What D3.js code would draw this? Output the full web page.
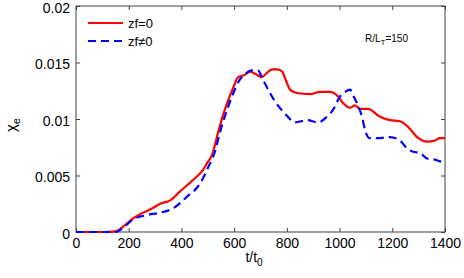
<!DOCTYPE html>
<html>
<head>
<meta charset="utf-8">
<script src="https://cdn.jsdelivr.net/npm/d3@7"></script>
<style>
  body { margin: 0; background: #fff; }
  text { font-family: "Liberation Sans", Arial, sans-serif; fill: #000; }
</style>
</head>
<body>
<div id="chart"></div>
<script>
var w = 464, h = 278;
var margin = {left: 76, right: 19, top: 6, bottom: 46};

// zf = 0 (red, solid)
var tZf0 = [0, 100, 150, 180, 216, 254, 290, 319, 357, 395, 444, 482, 500, 516, 539, 560, 578, 597, 615, 640, 660, 680, 705, 725, 745, 765, 782, 795, 812, 838, 888, 926, 964, 994, 1014, 1040, 1058, 1078, 1108, 1153, 1191, 1229, 1260, 1294, 1332, 1362, 1380, 1400];
var vZf0 = [0, 0, 0.00005, 0.0005, 0.0012, 0.0017, 0.0021, 0.0025, 0.0028, 0.0036, 0.0046, 0.0055, 0.0062, 0.0068, 0.0088, 0.0105, 0.0117, 0.0128, 0.0137, 0.0139, 0.0142, 0.0140, 0.0137, 0.0141, 0.0144, 0.0144, 0.0142, 0.0135, 0.0126, 0.0123, 0.0122, 0.0124, 0.0124, 0.0120, 0.0114, 0.0110, 0.0112, 0.0109, 0.0109, 0.0102, 0.0099, 0.0098, 0.0093, 0.0084, 0.0080, 0.0081, 0.0083, 0.0083];

// zf != 0 (blue, dashed)
var tZf1 = [0, 100, 150, 180, 216, 269, 319, 369, 420, 471, 501, 527, 546, 573, 597, 622, 648, 667, 690, 709, 736, 766, 800, 831, 876, 918, 952, 975, 1002, 1021, 1040, 1051, 1066, 1085, 1097, 1115, 1146, 1191, 1229, 1256, 1279, 1305, 1332, 1362, 1393, 1400];
var vZf1 = [0, 0, 0, 0.0004, 0.0011, 0.0015, 0.0017, 0.0021, 0.0031, 0.0043, 0.0057, 0.0071, 0.0088, 0.0108, 0.0123, 0.0135, 0.0141, 0.0143, 0.0143, 0.0135, 0.0123, 0.0112, 0.0103, 0.0097, 0.0099, 0.0097, 0.0102, 0.0108, 0.0120, 0.0124, 0.0126, 0.0121, 0.0114, 0.0102, 0.0090, 0.0083, 0.0083, 0.0084, 0.0081, 0.0074, 0.0071, 0.0070, 0.0065, 0.0064, 0.0062, 0.0063];

var xTicks = [0, 200, 400, 600, 800, 1000, 1200, 1400];
var yTicks = [0, 0.005, 0.01, 0.015, 0.02];
var yTickLabels = ["0", "0.005", "0.01", "0.015", "0.02"];

var svg = d3.select('#chart').append('svg')
    .attr('width', w)
    .attr('height', h);

var x = d3.scaleLinear().domain([0, 1400]).range([margin.left, w - margin.right]);
var y = d3.scaleLinear().domain([0, 0.02]).range([h - margin.bottom, margin.top]);

var axisColor = '#404040';

// box
svg.append('rect')
    .attr('x', x(0)).attr('y', y(0.02))
    .attr('width', x(1400) - x(0)).attr('height', y(0) - y(0.02))
    .attr('fill', 'none').attr('stroke', axisColor).attr('stroke-width', 1);

// axes, ticks inward
svg.append('g').attr('transform', 'translate(0,' + y(0) + ')')
    .call(d3.axisBottom(x).tickValues(xTicks).tickSize(-4).tickPadding(6).tickFormat(d3.format('d')));
svg.append('g').attr('transform', 'translate(0,' + y(0.02) + ')')
    .call(d3.axisTop(x).tickValues(xTicks).tickSize(-4).tickFormat(''));
var left = svg.append('g').attr('transform', 'translate(' + x(0) + ',0)')
    .call(d3.axisLeft(y).tickValues(yTicks).tickSize(-4).tickPadding(6)
        .tickFormat(function(d, i) { return yTickLabels[i]; }));
svg.append('g').attr('transform', 'translate(' + x(1400) + ',0)')
    .call(d3.axisRight(y).tickValues(yTicks).tickSize(-4).tickFormat(''));

svg.selectAll('.domain').remove();
svg.selectAll('.tick line').attr('stroke', axisColor);
svg.selectAll('.tick text')
    .style('font-family', '"Liberation Sans", Arial, sans-serif')
    .style('font-size', '14px')
    .attr('fill', '#000');
left.selectAll('.tick text').attr('dy', '0.45em'); // nudge so 0.02 isn't clipped

// curves
var line = d3.line()
    .x(function(d) { return x(d[0]); })
    .y(function(d) { return y(d[1]); })
    .curve(d3.curveMonotoneX);

svg.append('path')
    .datum(d3.zip(tZf0, vZf0))
    .attr('d', line)
    .attr('fill', 'none')
    .attr('stroke', '#ff0000')
    .attr('stroke-width', 2.2);

svg.append('path')
    .datum(d3.zip(tZf1, vZf1))
    .attr('d', line)
    .attr('fill', 'none')
    .attr('stroke', '#0000ff')
    .attr('stroke-width', 2.2)
    .attr('stroke-dasharray', '8,5');

// legend
var lg = svg.append('g');
lg.append('line').attr('x1', 88).attr('x2', 123).attr('y1', 23).attr('y2', 23)
    .attr('stroke', '#ff0000').attr('stroke-width', 2.2);
lg.append('text').attr('x', 128).attr('y', 28).style('font-size', '13px').text('zf=0');
lg.append('line').attr('x1', 88).attr('x2', 123).attr('y1', 41).attr('y2', 41)
    .attr('stroke', '#0000ff').attr('stroke-width', 2.2).attr('stroke-dasharray', '8,5');
lg.append('text').attr('x', 128).attr('y', 46).style('font-size', '13px').text('zf\u22600');

// annotation
var ann = svg.append('text').attr('x', 365).attr('y', 42).style('font-size', '10px');
ann.append('tspan').text('R/L');
ann.append('tspan').attr('dy', 3).style('font-size', '8px').text('T');
ann.append('tspan').attr('dy', -3).text('=150');

// x label
var xl = svg.append('text').attr('x', 254).attr('y', 262).attr('text-anchor', 'middle').style('font-size', '14px');
xl.append('tspan').text('t/t');
xl.append('tspan').attr('dy', 4).style('font-size', '10px').text('0');

// y label
var yl = svg.append('text').attr('transform', 'translate(16,' + (y(0.01) + 6) + ') rotate(-90)')
    .attr('text-anchor', 'middle').style('font-size', '15px');
yl.append('tspan').text('\u03c7');
yl.append('tspan').attr('dy', 4).style('font-size', '11px').text('e');
</script>
</body>
</html>
